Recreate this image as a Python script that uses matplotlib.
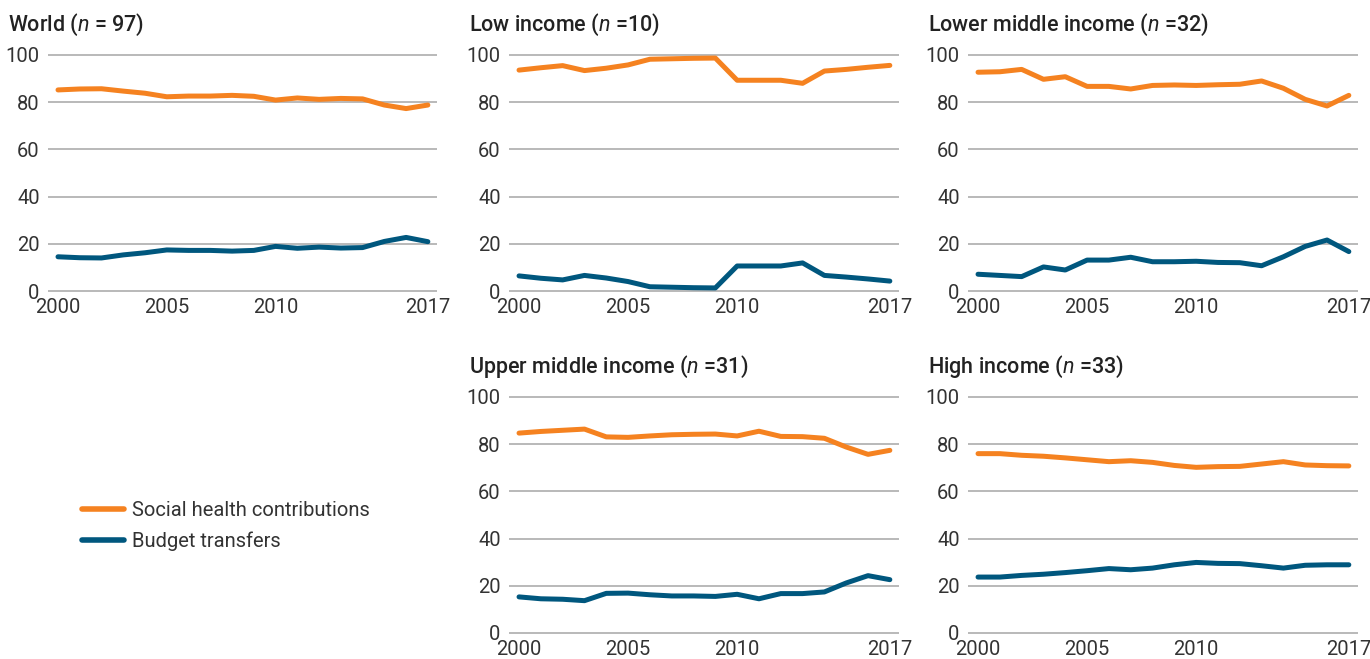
import matplotlib
matplotlib.use("Agg")
import matplotlib.pyplot as plt
from matplotlib.lines import Line2D

plt.rcParams['font.family'] = ['Roboto', 'DejaVu Sans']
plt.rcParams['mathtext.fontset'] = 'custom'
plt.rcParams['mathtext.rm'] = 'Roboto'
plt.rcParams['mathtext.it'] = 'Roboto:italic'

years = list(range(2000, 2018))
xtick_labels = ["2000", "2005", "2010", "2017"]
ytick_values = [0, 20, 40, 60, 80, 100]

world_social = [85.2, 85.6, 85.7, 84.7, 83.8, 82.3, 82.6, 82.6, 82.9, 82.5,
                80.9, 81.8, 81.2, 81.6, 81.4, 78.8, 77.3, 78.8]
world_budget = [14.5, 14.1, 14.0, 15.3, 16.2, 17.4, 17.2, 17.2, 16.9, 17.2,
                18.9, 18.1, 18.6, 18.2, 18.4, 21.0, 22.7, 20.9]

low_social = [93.6, 94.6, 95.5, 93.4, 94.4, 95.8, 98.2, 98.4, 98.6, 98.7,
              89.3, 89.3, 89.3, 88.0, 93.2, 93.9, 94.8, 95.6]
low_budget = [6.4, 5.4, 4.7, 6.6, 5.5, 4.0, 1.8, 1.6, 1.4, 1.3,
              10.6, 10.6, 10.6, 11.9, 6.6, 5.9, 5.1, 4.2]

lmid_social = [92.7, 92.9, 93.9, 89.7, 90.8, 86.7, 86.7, 85.6, 87.1, 87.3,
               87.1, 87.4, 87.6, 89.0, 85.9, 81.2, 78.4, 82.9]
lmid_budget = [7.1, 6.6, 6.1, 10.2, 8.9, 13.1, 13.1, 14.3, 12.4, 12.4,
               12.6, 12.1, 12.0, 10.7, 14.5, 18.9, 21.6, 16.7]

umid_social = [84.7, 85.4, 85.9, 86.4, 83.1, 82.9, 83.5, 84.0, 84.2, 84.3,
               83.5, 85.5, 83.3, 83.2, 82.5, 78.8, 75.7, 77.4]
umid_budget = [15.3, 14.5, 14.3, 13.7, 16.8, 16.9, 16.2, 15.7, 15.7, 15.5,
               16.4, 14.5, 16.7, 16.7, 17.4, 21.2, 24.3, 22.6]

high_social = [76.0, 76.0, 75.3, 74.9, 74.2, 73.4, 72.6, 73.0, 72.3, 71.0,
               70.2, 70.5, 70.6, 71.6, 72.6, 71.2, 70.9, 70.8]
high_budget = [23.7, 23.7, 24.4, 24.9, 25.6, 26.4, 27.3, 26.8, 27.5, 28.9,
               29.9, 29.5, 29.4, 28.5, 27.5, 28.7, 28.9, 28.9]

titles = [r"World ($\it{n}$ = 97)", r"Low income ($\it{n}$ =10)",
          r"Lower middle income ($\it{n}$ =32)", r"Upper middle income ($\it{n}$ =31)",
          r"High income ($\it{n}$ =33)"]
series_names = ["Social health contributions", "Budget transfers"]

ORANGE = "#F58220"
BLUE = "#00577E"
GRID = "#b3b3b3"
TEXT = "#333333"

W, H = 1370, 659
fig = plt.figure(figsize=(W / 100, H / 100), dpi=100)

YMIN, YMAX = -2, 102
XMIN, XMAX = 1999.54, 2017.42


def make_ax(left_px, right_px, y100_px, y0_px):
    ppu = (y0_px - y100_px) / 100.0
    top = y100_px - (YMAX - 100) * ppu
    bot = y0_px + (0 - YMIN) * ppu
    ax = fig.add_axes([left_px / W, 1 - bot / H, (right_px - left_px) / W, (bot - top) / H])
    return ax


panels = [
    (48, 437, 55, 291, titles[0], world_social, world_budget),
    (509, 899, 55, 291, titles[1], low_social, low_budget),
    (968, 1358, 55, 291, titles[2], lmid_social, lmid_budget),
    (509, 899, 397, 633, titles[3], umid_social, umid_budget),
    (968, 1358, 397, 633, titles[4], high_social, high_budget),
]

for left, right, y100, y0, title, soc, bud in panels:
    ax = make_ax(left, right, y100, y0)
    ax.set_xlim(XMIN, XMAX)
    ax.set_ylim(YMIN, YMAX)
    for s in ax.spines.values():
        s.set_visible(False)
    ax.set_yticks(ytick_values)
    ax.set_xticks([int(t) for t in xtick_labels])
    ax.set_xticklabels(xtick_labels)
    ax.tick_params(axis='both', length=0, labelsize=14.5, colors=TEXT)
    ax.tick_params(axis='y', pad=6)
    ax.tick_params(axis='x', pad=2)
    ax.grid(axis='y', color=GRID, linewidth=1.3)
    ax.set_axisbelow(True)
    ax.plot(years, soc, color=ORANGE, lw=3.6, solid_capstyle='round', solid_joinstyle='round')
    ax.plot(years, bud, color=BLUE, lw=3.6, solid_capstyle='round', solid_joinstyle='round')
    fig.text((left - 40) / W, 1 - (y100 - 30) / H, title, fontsize=15.5,
             fontweight='medium', color='#222222', ha='left', va='center')

handles = [Line2D([0], [0], color=ORANGE, lw=4, solid_capstyle='round'),
           Line2D([0], [0], color=BLUE, lw=4, solid_capstyle='round')]
leg = fig.legend(handles, series_names, loc='center left',
                 bbox_to_anchor=(64 / W, 1 - 526 / H), frameon=False,
                 fontsize=14.5, handlelength=2.1, handletextpad=0.4,
                 labelspacing=0.6)
for t in leg.get_texts():
    t.set_color(TEXT)

fig.savefig("out.png", dpi=100)
